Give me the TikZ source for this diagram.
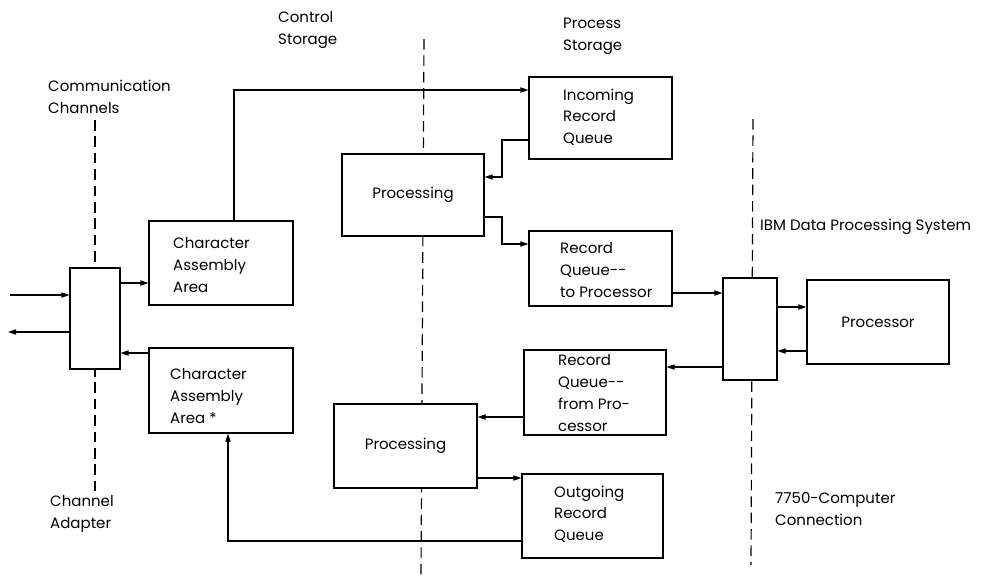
\documentclass[tikz,border=0pt]{standalone}
\usepackage{fontspec}
\setmainfont{Poppins}
\usetikzlibrary{arrows.meta,fit}
\begin{document}
\begin{tikzpicture}[x=0.03cm,y=-0.03cm,
  box/.style={draw,line width=0.9pt,fill=white,inner sep=0pt},
  lbl/.style={anchor=west,align=left,inner sep=0pt,font=\fontsize{12.8}{18.5}\selectfont},
  ctr/.style={align=center,inner sep=0pt,font=\fontsize{12.8}{18.5}\selectfont},
  conn/.style={line width=0.9pt},
  arr/.style={line width=0.9pt,-{Triangle[length=7pt,width=4.5pt]}},
  bound/.style={line width=1pt,dash pattern=on 9pt off 5pt}]
\useasboundingbox (0,0) rectangle (985,577);
% boundary dashed lines
\coordinate (chT) at (95,120);   \coordinate (chB) at (95,494);
\coordinate (csT) at (424,39);   \coordinate (csB) at (421,575);
\coordinate (cmT) at (753,119);  \coordinate (cmB) at (751,565);
\draw[bound] (chT) -- (chB);
\draw[bound] (csT) -- (csB);
\draw[bound] (cmT) -- (cmB);
% boxes
\node[box,fit={(70,268) (120,369)}] (adapter) {};
\node[box,fit={(149,221) (293,305)}] (caa1) {};
\node[box,fit={(149,348) (293,433)}] (caa2) {};
\node[box,fit={(342,154) (484,236)}] (proc1) {};
\node[box,fit={(334,404) (477,488)}] (proc2) {};
\node[box,fit={(529,77) (672,159)}] (incoming) {};
\node[box,fit={(529,231) (672,306)}] (rqtp) {};
\node[box,fit={(524,350) (666,435)}] (rqfp) {};
\node[box,fit={(522,474) (663,558)}] (outgoing) {};
\node[box,fit={(723,278) (777,380)}] (mid) {};
\node[box,fit={(807,280) (949,364)}] (processor) {};
% texts
\node[lbl] at (48,97) {Communication\\Channels};
\node[lbl] at (278,30) {Control\\Storage};
\node[lbl] at (563,36) {Process\\Storage};
\node[lbl] at (173,265) {Character\\Assembly\\Area};
\node[lbl] at (170,396) {Character\\Assembly\\Area *};
\node[lbl] at (563,117) {Incoming\\Record\\Queue};
\node[ctr] at (proc1) {Processing};
\node[ctr] at (proc2) {Processing};
\node[lbl] at (560,270) {Record\\Queue-{}-\\to Processor};
\node[lbl] at (558,393) {Record\\Queue-{}-\\from Pro-\\cessor};
\node[lbl] at (554,514) {Outgoing\\Record\\Queue};
\node[ctr] at (processor) {Processor};
\node[lbl] at (760,227) {IBM Data Processing System};
\node[lbl] at (775,509) {7750-Computer\\Connection};
\node[lbl] at (50,514) {Channel\\Adapter};
% connectors
\coordinate (inL) at (10,295);
\coordinate (outL) at (8,332);
\draw[arr] (inL) -- (inL -| adapter.west);
\draw[arr] (adapter.west |- outL) -- (outL);
\draw[arr] (adapter.east |- 0,283) -- (caa1.west |- 0,283);
\draw[arr] (caa2.west |- 0,353) -- (adapter.east |- 0,353);
\draw[arr] (caa1.north -| 234,0) |- (incoming.west |- 0,90);
\draw[arr] (incoming.west |- 0,140) -- (502,140) -- (502,177) -- (proc1.east |- 0,177);
\draw[arr] (proc1.east |- 0,217) -- (502,217) |- (rqtp.west |- 0,244);
\draw[arr] (rqtp.east |- 0,293) -- (mid.west |- 0,293);
\draw[arr] (mid.east |- 0,307) -- (processor.west |- 0,307);
\draw[arr] (processor.west |- 0,351) -- (mid.east |- 0,351);
\draw[arr] (mid.west |- 0,367) -- (rqfp.east |- 0,367);
\draw[arr] (rqfp.west |- 0,417) -- (proc2.east |- 0,417);
\draw[arr] (proc2.east |- 0,478) -- (outgoing.west |- 0,478);
\draw[arr] (outgoing.west |- 0,541) -| (caa2.south -| 228,0);
\end{tikzpicture}
\end{document}
